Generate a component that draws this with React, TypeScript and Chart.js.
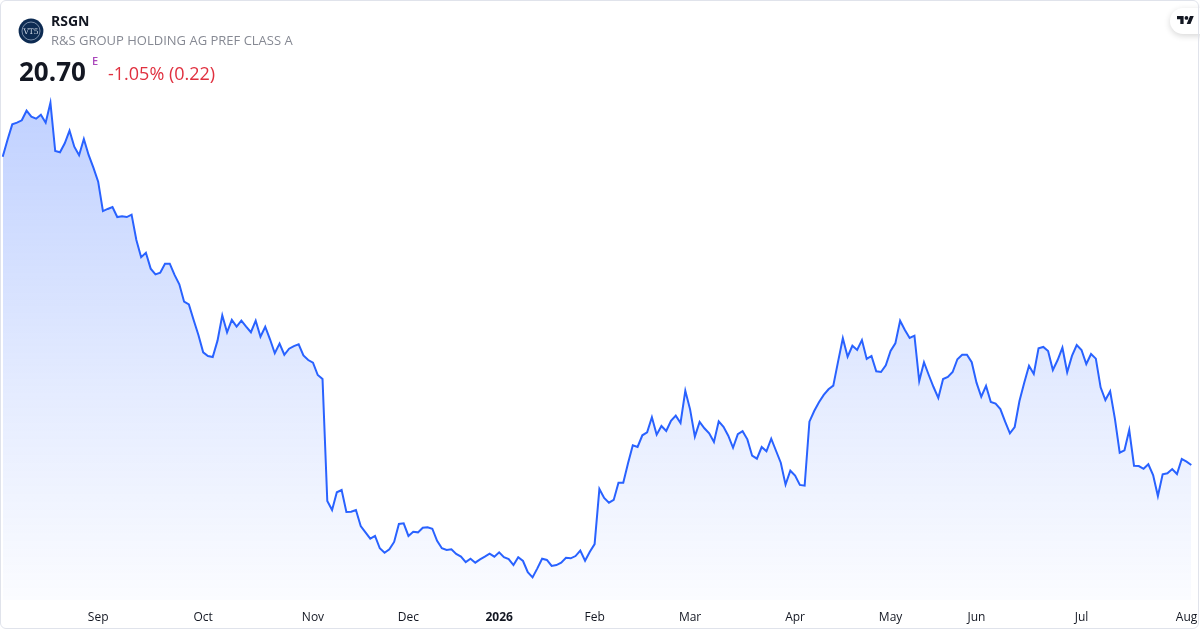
import React, { useEffect, useRef } from 'react';
import { Chart, registerables } from 'chart.js';

Chart.register(...registerables);

// Daily closes (one per trading day)
const prices: number[] = [
  41.25, 42.37, 43.41, 43.52, 43.68, 44.32, 43.92, 43.79, 44.05, 43.52,
  44.85, 41.63, 41.55, 42.15, 42.99, 41.92, 41.35, 42.43, 41.37, 40.52,
  39.59, 37.63, 37.77, 37.90, 37.23, 37.28, 37.23, 37.39, 35.70, 34.55,
  34.85, 33.79, 33.41, 33.52, 34.12, 34.12, 33.37, 32.75, 31.59, 31.41,
  30.37, 29.37, 28.21, 27.97, 27.90, 28.99, 30.68, 29.55, 30.37, 29.92,
  30.32, 29.92, 29.55, 30.32, 29.25, 29.92, 29.08, 28.15, 28.79, 28.05,
  28.45, 28.63, 28.75, 28.01, 27.70, 27.52, 26.70, 26.43, 18.30, 17.70,
  18.88, 19.03, 17.57, 17.59, 17.70, 16.63, 16.21, 15.79, 15.97, 15.15,
  14.85, 15.08, 15.57, 16.77, 16.81, 15.97, 16.25, 16.21, 16.52, 16.55,
  16.45, 15.65, 15.15, 15.03, 15.08, 14.77, 14.59, 14.23, 14.45, 14.19,
  14.41, 14.59, 14.79, 14.59, 14.88, 14.55, 14.43, 14.03, 14.55, 14.30,
  13.55, 13.21, 13.81, 14.45, 14.37, 13.97, 14.03, 14.19, 14.52, 14.48,
  14.63, 14.99, 14.32, 14.92, 15.43, 19.10, 18.50, 18.19, 18.37, 19.52,
  19.52, 20.81, 22.01, 21.90, 22.68, 22.88, 23.88, 22.72, 23.30, 22.97,
  23.65, 23.99, 23.50, 25.65, 24.41, 22.59, 23.57, 23.15, 22.81, 22.23,
  23.61, 23.25, 22.65, 21.85, 22.75, 22.95, 22.41, 21.32, 21.12, 21.90,
  21.61, 22.45, 21.65, 20.85, 19.39, 20.32, 19.99, 19.37, 19.32, 23.59,
  24.30, 24.88, 25.37, 25.75, 25.99, 27.59, 29.15, 27.92, 28.65, 28.37,
  29.03, 27.77, 27.97, 26.95, 26.90, 27.35, 28.30, 28.81, 30.32, 29.70,
  29.17, 29.32, 26.30, 27.55, 26.70, 25.90, 25.17, 26.43, 26.57, 26.90,
  27.75, 28.05, 28.05, 27.55, 26.19, 25.25, 25.97, 24.90, 24.79, 24.43,
  23.59, 22.81, 23.23, 24.97, 26.19, 27.32, 26.77, 28.48, 28.57, 28.30,
  27.03, 27.70, 28.52, 26.88, 27.97, 28.70, 28.37, 27.43, 28.10, 27.79,
  25.88, 25.03, 25.61, 23.77, 21.52, 21.68, 23.03, 20.65, 20.63, 20.45,
  20.75, 20.03, 18.63, 20.08, 20.15, 20.43, 20.10, 21.10, 20.92, 20.70,
];

// Month tick labels and the trading-day index where each month starts
const tickLabels: string[] = ['Sep', 'Oct', 'Nov', 'Dec', '2026', 'Feb', 'Mar', 'Apr', 'May', 'Jun', 'Jul', 'Aug'];
const tickIndex: number[] = [20, 42, 65, 85, 104, 124, 144, 166, 186, 204, 226, 248];

const symbol = 'RSGN';
const companyName = 'R&S GROUP HOLDING AG PREF CLASS A';
const lastPrice = '20.70';
const changeText = '-1.05% (0.22)';
const yMin = 11.7;
const yMax = 45.7;

const FONT = '"Open Sans", "Noto Sans", sans-serif';

export default function App() {
  const canvasRef = useRef<HTMLCanvasElement | null>(null);

  useEffect(() => {
    document.body.style.margin = '0';
    const canvas = canvasRef.current;
    if (!canvas) return;
    const labels = prices.map((_, i) => {
      const k = tickIndex.indexOf(i);
      return k >= 0 ? tickLabels[k] : '';
    });
    const chart = new Chart(canvas, {
      type: 'line',
      data: {
        labels,
        datasets: [
          {
            data: prices,
            borderColor: '#2962ff',
            borderWidth: 2,
            pointRadius: 0,
            pointHoverRadius: 0,
            tension: 0,
            fill: 'start',
            backgroundColor: (ctx: any) => {
              const { chart: ch } = ctx;
              const area = ch.chartArea;
              if (!area) return 'rgba(41,98,255,0.1)';
              const g = ch.ctx.createLinearGradient(0, area.top, 0, area.bottom);
              g.addColorStop(0, 'rgba(41,98,255,0.30)');
              g.addColorStop(0.6, 'rgba(41,98,255,0.12)');
              g.addColorStop(1, 'rgba(41,98,255,0.02)');
              return g;
            },
          },
        ],
      },
      options: {
        animation: false,
        responsive: false,
        events: [],
        layout: { padding: { top: 90, bottom: 5.6, left: 2.7, right: 8.7 } },
        plugins: { legend: { display: false }, tooltip: { enabled: false } },
        scales: {
          x: {
            type: 'category',
            grid: { display: false, drawTicks: false },
            border: { display: false },
            afterFit: (scale: any) => {
              scale.paddingLeft = 0;
              scale.paddingRight = 0;
              scale.height = 24.4;
            },
            ticks: {
              autoSkip: false,
              maxRotation: 0,
              minRotation: 0,
              padding: 10,
              color: '#131722',
              font: (c: any) => ({
                family: FONT,
                size: 12,
                weight: c.tick && c.tick.label === '2026' ? 'bold' : 'normal',
              }),
            },
          },
          y: { display: false, min: yMin, max: yMax },
        },
      },
    } as any);
    return () => chart.destroy();
  }, []);

  return (
    <div
      style={{
        position: 'fixed',
        left: 0,
        top: 0,
        width: 1200,
        height: 630,
        background: '#ffffff',
        overflow: 'hidden',
        fontFamily: FONT,
      }}
    >
      <canvas ref={canvasRef} width={1200} height={630} style={{ display: 'block', position: 'absolute', left: 0, top: 0 }} />

      {/* logo */}
      <svg style={{ position: 'absolute', left: 18, top: 18 }} width={26} height={26} viewBox="0 0 26 26">
        <circle cx={13} cy={13} r={12.4} fill="#0d2b52" />
        <circle cx={13} cy={13} r={9} fill="none" stroke="#a9b9cf" strokeWidth={0.7} />
        <text x={13} y={15.6} textAnchor="middle" fontSize={7.5} fontFamily="DejaVu Serif, serif" fill="#d6dfea">
          VT5
        </text>
      </svg>

      <div style={{ position: 'absolute', left: 51, top: 14.3, fontSize: 14, lineHeight: '14px', fontWeight: 700, color: '#131722', whiteSpace: 'nowrap' }}>
        {symbol}
      </div>
      <div style={{ position: 'absolute', left: 51, top: 33.5, fontSize: 13, lineHeight: '13px', color: '#868993', whiteSpace: 'nowrap' }}>
        {companyName}
      </div>
      <div style={{ position: 'absolute', left: 19, top: 57.6, fontSize: 26, lineHeight: '26px', fontWeight: 700, color: '#131722', whiteSpace: 'nowrap' }}>
        {lastPrice}
      </div>
      <div style={{ position: 'absolute', left: 92, top: 55.2, fontSize: 11, lineHeight: '11px', fontWeight: 600, color: '#ab47bc' }}>
        E
      </div>
      <div style={{ position: 'absolute', left: 108, top: 64, fontSize: 18, lineHeight: '18px', color: '#e0303f', whiteSpace: 'nowrap' }}>
        {changeText}
      </div>

      {/* TradingView badge */}
      <div
        style={{
          position: 'absolute',
          left: 1170,
          top: 8,
          width: 44,
          height: 26,
          borderRadius: 13,
          background: '#ffffff',
          boxShadow: '0 2px 6px rgba(0,0,0,0.16)',
        }}
      />
      <svg style={{ position: 'absolute', left: 1177, top: 15.5 }} width={17} height={8.6} viewBox="0 4 36 18">
        <path d="M14 22H7V11H0V4h14v18zM28 22h-8l7.5-18h8L28 22z" fill="#131722" />
        <circle cx={20} cy={8} r={4} fill="#131722" />
      </svg>

      {/* card border */}
      <div
        style={{
          position: 'absolute',
          left: 0,
          top: 0,
          width: 1199,
          height: 629,
          boxSizing: 'border-box',
          border: '1px solid #e0e3eb',
          borderRadius: 6,
          pointerEvents: 'none',
        }}
      />
    </div>
  );
}
